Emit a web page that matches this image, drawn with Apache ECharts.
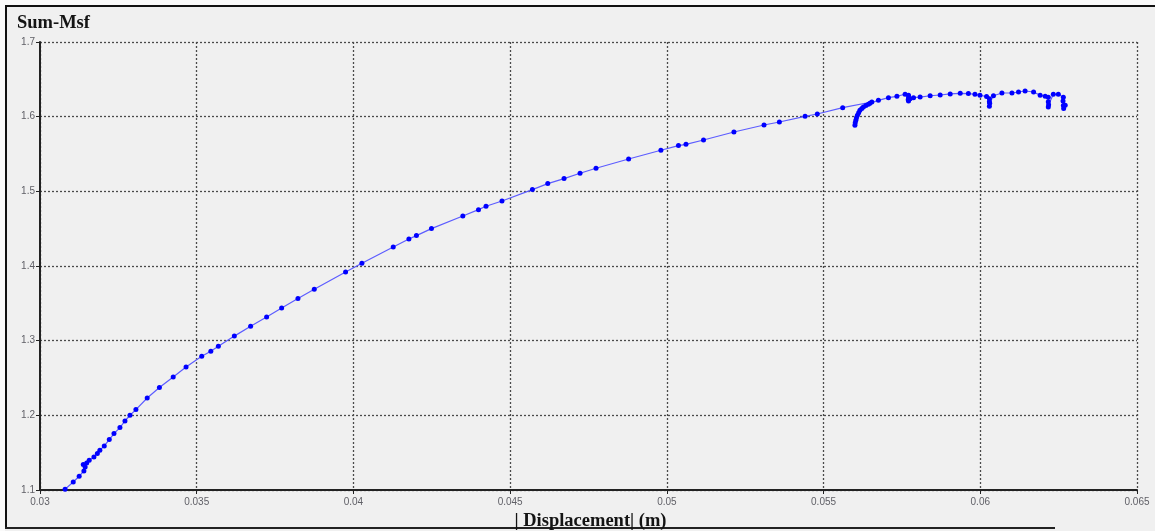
<!DOCTYPE html>
<html>
<head>
<meta charset="utf-8">
<script src="https://cdn.jsdelivr.net/npm/echarts@6/dist/echarts.min.js"></script>
<style>
  html, body { margin: 0; padding: 0; background: #f0f0f0; }
  #wrap { position: relative; width: 1155px; height: 531px; background: #f0f0f0; overflow: hidden; }
  #frameL { position: absolute; left: 0; top: 0; width: 5px; height: 531px; background: #fafafa; }
  #frameT { position: absolute; left: 0; top: 0; width: 1155px; height: 5px; background: #fafafa; }
  #lineL { position: absolute; left: 5px; top: 5px; width: 2px; height: 523px; background: #111; }
  #lineT { position: absolute; left: 5px; top: 5px; width: 1150px; height: 2px; background: #111; }
  #lineB { position: absolute; left: 5px; top: 527px; width: 1050px; height: 2px; background: #222; }
  #chart { position: absolute; left: 0; top: 0; width: 1155px; height: 531px; }
</style>
</head>
<body>
<div id="wrap">
  <div id="frameL"></div><div id="frameT"></div>
  <div id="lineL"></div><div id="lineT"></div><div id="lineB"></div>
  <div id="chart"></div>
</div>
<script>
// ---- data ----
const titleText = 'Sum-Msf';
const xAxisTitle = '| Displacement| (m)';
const xTicks = [0.03, 0.035, 0.04, 0.045, 0.05, 0.055, 0.06, 0.065];
const yTicks = [1.1, 1.2, 1.3, 1.4, 1.5, 1.6, 1.7];

// |Displacement| (m)
const displacement = [
  0.03080, 0.03106, 0.03125, 0.03140, 0.03144, 0.03138, 0.03149, 0.03157, 0.03172, 0.03183,
  0.03191, 0.03205, 0.03221, 0.03236, 0.03255, 0.03271, 0.03287, 0.03306, 0.03342, 0.03381,
  0.03425, 0.03466, 0.03516, 0.03545, 0.03569, 0.03620, 0.03672, 0.03723, 0.03771, 0.03823,
  0.03875, 0.03975, 0.04027, 0.04127, 0.04177, 0.04201, 0.04249, 0.04349, 0.04399, 0.04423,
  0.04474, 0.04571, 0.04620, 0.04672, 0.04723, 0.04774, 0.04878, 0.04981, 0.05037, 0.05061,
  0.05117, 0.05214, 0.05310, 0.05359, 0.05441, 0.05480, 0.05561,
  0.05654, 0.05643, 0.05627, 0.05616, 0.05608, 0.05603, 0.05600,
  0.05601, 0.05605, 0.05612, 0.05622, 0.05635, 0.05648,
  0.05675, 0.05707, 0.05734, 0.05760,
  0.05771, 0.05771, 0.05770, 0.05771, 0.05776,
  0.05787, 0.05808, 0.05840, 0.05872, 0.05904, 0.05936, 0.05962, 0.05983, 0.05999,
  0.06020, 0.06029, 0.06029, 0.06029, 0.06030,
  0.06042, 0.06069, 0.06101, 0.06122, 0.06143, 0.06170, 0.06191, 0.06207,
  0.06217, 0.06217, 0.06217, 0.06218,
  0.06233, 0.06249, 0.06265, 0.06264, 0.06265, 0.06266, 0.06271
];
// Sum-Msf
const sumMsf = [
  1.1010, 1.1107, 1.1184, 1.1255, 1.1308, 1.1340, 1.1362, 1.1398, 1.1442, 1.1488,
  1.1532, 1.1590, 1.1675, 1.1756, 1.1836, 1.1924, 1.2001, 1.2077, 1.2232, 1.2372,
  1.2514, 1.2648, 1.2791, 1.2858, 1.2925, 1.3061, 1.3193, 1.3317, 1.3438, 1.3564,
  1.3688, 1.3920, 1.4036, 1.4255, 1.4362, 1.4407, 1.4501, 1.4670, 1.4755, 1.4800,
  1.4871, 1.5023, 1.5104, 1.5171, 1.5242, 1.5309, 1.5433, 1.5550, 1.5613, 1.5630,
  1.5688, 1.5795, 1.5888, 1.5929, 1.6005, 1.6036, 1.6121,
  1.6196, 1.6166, 1.6130, 1.6085, 1.6018, 1.5951, 1.5884,
  1.5918, 1.5985, 1.6052, 1.6108, 1.6150, 1.6180,
  1.6219, 1.6255, 1.6273, 1.6300,
  1.6286, 1.6255, 1.6225, 1.6210, 1.6240,
  1.6255, 1.6262, 1.6280, 1.6290, 1.6305, 1.6312, 1.6309, 1.6300, 1.6286,
  1.6270, 1.6240, 1.6200, 1.6140, 1.6180,
  1.6280, 1.6317, 1.6317, 1.6330, 1.6344, 1.6330, 1.6286, 1.6273,
  1.6260, 1.6200, 1.6130, 1.6160,
  1.6300, 1.6300, 1.6260, 1.6210, 1.6150, 1.6108, 1.6152
];

const points = displacement.map((x, i) => [x, sumMsf[i]]);

const chart = echarts.init(document.getElementById('chart'), null, { renderer: 'canvas' });
const tickFont = { fontFamily: 'Liberation Sans', fontSize: 10, color: '#5f5f66' };
const gridLine = { show: true, lineStyle: { color: '#4a4a4a', width: 1.3, type: [2, 2] } };

chart.setOption({
  backgroundColor: 'transparent',
  animation: false,
  title: {
    text: titleText, left: 12, top: 9,
    textStyle: { fontFamily: 'Liberation Serif', fontWeight: 'bold', fontSize: 18.5, color: '#141414' }
  },
  grid: { left: 40, right: 18, top: 42, bottom: 41, containLabel: false, outerBoundsMode: 'none' },
  xAxis: {
    type: 'value', min: xTicks[0], max: xTicks[xTicks.length - 1], interval: 0.005,
    name: xAxisTitle, nameLocation: 'middle', nameGap: 16,
    nameTextStyle: { fontFamily: 'Liberation Serif', fontWeight: 'bold', fontSize: 18.5, color: '#141414', padding: [0, 0, 0, 4] },
    axisLine: { show: true, onZero: false, lineStyle: { color: '#222', width: 2 } },
    axisTick: { show: true, length: 4, lineStyle: { color: '#222', width: 1 } },
    axisLabel: Object.assign({ margin: 7, formatter: v => String(parseFloat(v.toFixed(3))) }, tickFont),
    splitLine: gridLine
  },
  yAxis: {
    type: 'value', min: yTicks[0], max: yTicks[yTicks.length - 1], interval: 0.1,
    axisLine: { show: true, onZero: false, lineStyle: { color: '#222', width: 2 } },
    axisTick: { show: true, length: 4, lineStyle: { color: '#222', width: 1 } },
    axisLabel: Object.assign({ margin: 5, formatter: v => v.toFixed(1) }, tickFont),
    splitLine: gridLine
  },
  series: [{
    type: 'line',
    data: points,
    showSymbol: true,
    showAllSymbol: true,
    symbol: 'circle',
    symbolSize: 5,
    itemStyle: { color: '#0000ff' },
    lineStyle: { color: '#5c5cff', width: 1.2 },
    clip: false
  }]
});
</script>
</body>
</html>
